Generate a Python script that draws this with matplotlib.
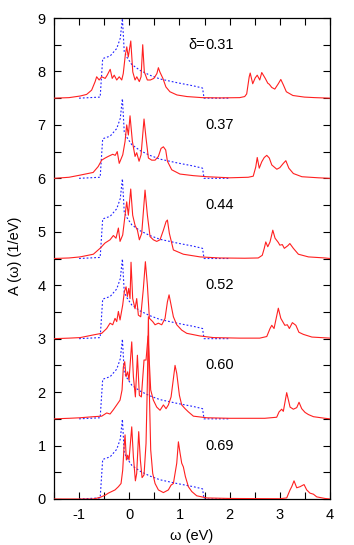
import matplotlib
matplotlib.use("Agg")
import matplotlib.pyplot as plt
import numpy as np
from matplotlib.ticker import MultipleLocator

plt.rcParams['font.family'] = ['Liberation Sans', 'DejaVu Sans']
plt.rcParams['axes.unicode_minus'] = False

# doping values and vertical offsets of each curve
deltas = ["0.31", "0.37", "0.44", "0.52", "0.60", "0.69"]
offsets = [7.5, 6.0, 4.5, 3.0, 1.5, 0.0]

# blue dotted reference DOS (same for all curves, shifted)
w_blue = [-1.0, -0.58, -0.53, -0.38, -0.25, -0.18, -0.137, -0.10, -0.05, 0.05, 0.215, 0.41, 0.61, 0.95, 1.28, 1.46, 1.49, 2.0]
a_blue = [0.0, 0.02, 0.74, 0.79, 0.93, 1.12, 1.49, 0.87, 0.77, 0.63, 0.52, 0.43, 0.36, 0.29, 0.23, 0.19, 0.0, 0.0]

# red spectral functions (omega in eV, A above baseline)
w_031 = [-1.5, -1.2, -0.98, -0.85, -0.75, -0.68, -0.65, -0.60, -0.55, -0.48, -0.44, -0.38, -0.34, -0.30, -0.25,
         -0.20, -0.15, -0.12, -0.08, -0.05, -0.02, 0.03, 0.07, 0.115, 0.15, 0.20, 0.235, 0.268, 0.30, 0.36, 0.42,
         0.49, 0.55, 0.58, 0.61, 0.67, 0.73, 0.81, 0.95, 1.15, 1.45, 1.8, 2.2, 2.30, 2.34, 2.39, 2.41, 2.46, 2.51,
         2.55, 2.60, 2.64, 2.71, 2.76, 2.79, 2.84, 2.90, 2.97, 3.02, 3.07, 3.13, 3.26, 3.49, 3.7, 4.0]
a_031 = [0.0, 0.01, 0.04, 0.07, 0.15, 0.31, 0.40, 0.34, 0.40, 0.37, 0.43, 0.54, 0.37, 0.43, 0.34,
         0.40, 0.34, 0.46, 0.80, 0.96, 0.77, 1.07, 0.49, 0.34, 0.40, 0.31, 0.40, 1.00, 0.49, 0.34, 0.34,
         0.37, 0.46, 0.57, 0.49, 0.37, 0.21, 0.12, 0.06, 0.03, 0.01, 0.005, 0.01, 0.03, 0.08, 0.40, 0.47, 0.27, 0.38,
         0.43, 0.34, 0.48, 0.37, 0.28, 0.26, 0.20, 0.17, 0.27, 0.35, 0.25, 0.12, 0.05, 0.02, 0.01, 0.0]

w_037 = [-1.5, -1.2, -0.98, -0.72, -0.62, -0.55, -0.48, -0.42, -0.33, -0.28, -0.24, -0.20, -0.13, -0.084, -0.051,
         -0.018, 0.015, 0.062, 0.115, 0.148, 0.195, 0.235, 0.294, 0.334, 0.381, 0.447, 0.514, 0.58, 0.633, 0.68,
         0.726, 0.76, 0.846, 1.01, 1.28, 1.55, 2.0, 2.37, 2.47, 2.52, 2.55, 2.59, 2.64, 2.69, 2.74, 2.79, 2.84,
         2.89, 2.94, 3.0, 3.07, 3.12, 3.18, 3.27, 3.44, 3.77, 4.0]
a_037 = [0.0, 0.02, 0.06, 0.11, 0.22, 0.34, 0.38, 0.41, 0.45, 0.43, 0.50, 0.28, 0.44, 0.69, 1.00,
         0.81, 1.17, 0.69, 0.41, 0.48, 0.32, 0.44, 1.11, 0.75, 0.38, 0.34, 0.34, 0.41, 0.56, 0.59,
         0.53, 0.32, 0.16, 0.08, 0.05, 0.03, 0.01, 0.02, 0.04, 0.21, 0.39, 0.19, 0.31, 0.39, 0.43, 0.38, 0.25,
         0.21, 0.17, 0.20, 0.28, 0.33, 0.19, 0.09, 0.03, 0.01, 0.0]

w_044 = [-1.5, -1.2, -0.98, -0.716, -0.583, -0.483, -0.383, -0.317, -0.264, -0.217, -0.184, -0.131, -0.084, -0.051,
         -0.018, 0.029, 0.068, 0.115, 0.162, 0.201, 0.248, 0.314, 0.361, 0.414, 0.48, 0.547, 0.613, 0.68, 0.733,
         0.76, 0.799, 0.879, 1.078, 1.411, 1.8, 2.3, 2.57, 2.65, 2.69, 2.72, 2.76, 2.805, 2.86, 2.905, 2.97, 3.0,
         3.05, 3.09, 3.16, 3.20, 3.27, 3.37, 3.57, 3.9, 4.0]
a_044 = [0.0, 0.01, 0.03, 0.08, 0.19, 0.29, 0.35, 0.43, 0.38, 0.57, 0.32, 0.44, 0.81, 1.06,
         0.81, 1.30, 0.81, 0.62, 0.53, 0.35, 0.47, 1.28, 0.81, 0.41, 0.35, 0.32, 0.35, 0.53, 0.69,
         0.72, 0.47, 0.16, 0.08, 0.03, 0.01, 0.005, 0.01, 0.06, 0.19, 0.31, 0.22, 0.31, 0.53, 0.38, 0.30, 0.25,
         0.26, 0.19, 0.24, 0.28, 0.19, 0.08, 0.03, 0.01, 0.0]

w_052 = [-1.5, -1.2, -0.98, -0.716, -0.549, -0.45, -0.383, -0.33, -0.284, -0.25, -0.217, -0.184, -0.131, -0.098,
         -0.064, -0.038, -0.011, 0.015, 0.035, 0.068, 0.115, 0.148, 0.181, 0.228, 0.281, 0.321, 0.361, 0.401, 0.467,
         0.514, 0.58, 0.647, 0.713, 0.76, 0.793, 0.833, 0.879, 0.946, 1.045, 1.145, 1.411, 1.677, 2.2, 2.6, 2.74,
         2.805, 2.84, 2.885, 2.97, 3.02, 3.10, 3.15, 3.19, 3.25, 3.32, 3.38, 3.47, 3.64, 4.0]
a_052 = [0.0, 0.01, 0.02, 0.07, 0.10, 0.19, 0.29, 0.26, 0.38, 0.32, 0.51, 0.35, 0.63, 0.88,
         0.97, 0.79, 0.94, 0.75, 1.43, 0.75, 0.56, 0.75, 0.44, 0.41, 0.94, 1.44, 1.00, 0.38, 0.32,
         0.26, 0.29, 0.26, 0.38, 0.69, 0.82, 0.63, 0.41, 0.26, 0.16, 0.10, 0.05, 0.02, 0.01, 0.01, 0.04,
         0.19, 0.25, 0.19, 0.57, 0.38, 0.25, 0.26, 0.19, 0.30, 0.25, 0.12, 0.08, 0.03, 0.01]

w_060 = [-1.5, -1.2, -0.98, -0.716, -0.549, -0.45, -0.383, -0.317, -0.25, -0.184, -0.144, -0.118, -0.091, -0.064,
         -0.031, -0.005, 0.049, 0.082, 0.122, 0.162, 0.201, 0.241, 0.294, 0.334, 0.374, 0.427, 0.48, 0.547, 0.613,
         0.68, 0.733, 0.779, 0.833, 0.879, 0.912, 0.946, 0.999, 1.045, 1.112, 1.178, 1.278, 1.544, 2.0, 2.7, 2.938,
         2.985, 3.037, 3.07, 3.137, 3.204, 3.27, 3.337, 3.383, 3.436, 3.503, 3.57, 3.67, 3.9, 4.0]
a_060 = [0.0, 0.01, 0.02, 0.04, 0.05, 0.11, 0.09, 0.17, 0.26, 0.35, 0.54, 0.97, 1.07, 0.79,
         0.88, 0.72, 1.44, 0.79, 0.41, 1.19, 0.44, 0.41, 1.10, 1.10, 1.55, 0.54, 0.35, 0.22, 0.16,
         0.26, 0.19, 0.26, 0.41, 0.75, 1.00, 0.85, 0.44, 0.26, 0.19, 0.13, 0.05, 0.02, 0.01, 0.01, 0.03,
         0.13, 0.18, 0.14, 0.49, 0.22, 0.18, 0.21, 0.31, 0.19, 0.12, 0.08, 0.04, 0.01, 0.0]

w_069 = [-1.5, -0.716, -0.583, -0.483, -0.417, -0.35, -0.284, -0.217, -0.164, -0.131, -0.104, -0.084, -0.058,
         -0.031, -0.005, 0.049, 0.082, 0.122, 0.148, 0.188, 0.221, 0.255, 0.294, 0.334, 0.361, 0.381, 0.40, 0.427,
         0.467, 0.514, 0.58, 0.68, 0.779, 0.833, 0.879, 0.946, 0.979, 1.012, 1.045, 1.078, 1.118, 1.178, 1.245,
         1.344, 1.544, 2.0, 3.0, 3.137, 3.204, 3.237, 3.283, 3.337, 3.403, 3.483, 3.536, 3.60, 3.67, 3.735, 3.9, 4.0]
a_069 = [0.0, 0.0, 0.03, 0.07, 0.11, 0.14, 0.17, 0.23, 0.29, 0.54, 0.98, 1.20, 0.73,
         0.82, 0.73, 1.35, 0.79, 0.34, 0.48, 1.26, 0.73, 0.40, 0.45, 1.04, 2.20, 3.41, 2.00, 0.92,
         0.48, 0.29, 0.17, 0.12, 0.17, 0.26, 0.29, 0.67, 1.07, 0.86, 0.67, 0.60, 0.42, 0.23, 0.14,
         0.06, 0.02, 0.01, 0.005, 0.02, 0.17, 0.23, 0.34, 0.21, 0.23, 0.27, 0.17, 0.11, 0.09, 0.04, 0.01, 0.0]

red_w = [w_031, w_037, w_044, w_052, w_060, w_069]
red_a = [a_031, a_037, a_044, a_052, a_060, a_069]

FS = 10.5

fig = plt.figure(figsize=(3.54, 5.45), dpi=100)
ax = fig.add_axes([54/354, 46/545, 276/354, 481/545])

for w, a, off in zip(red_w, red_a, offsets):
    ax.plot(w, np.asarray(a) + off, color='#ff2020', lw=0.8, zorder=3)
    ax.plot(w_blue, np.asarray(a_blue) + off, color='#2020ff', lw=0.8,
            linestyle=(0, (1.6, 1.8)), zorder=2)

for i, (d, off) in enumerate(zip(deltas, offsets)):
    ax.text(1.51, off + 1.0, d, ha='left', va='center', fontsize=FS)
    if i == 0:
        ax.text(1.51, off + 1.0, "δ=", ha='right', va='center', fontsize=FS)

ax.set_xlim(-1.5, 4)
ax.set_ylim(0, 9)
ax.xaxis.set_major_locator(MultipleLocator(1))
ax.xaxis.set_minor_locator(MultipleLocator(0.5))
ax.yaxis.set_major_locator(MultipleLocator(1))
ax.yaxis.set_minor_locator(MultipleLocator(0.5))
ax.tick_params(which='both', direction='in', top=True, right=True, length=5, width=0.8, labelsize=FS)
ax.tick_params(axis='x', which='major', pad=6.5)
ax.tick_params(axis='y', which='major', pad=6)
for s in ax.spines.values():
    s.set_linewidth(0.9)

fig.text(15/354, (545-256)/545, "A (ω) (1/eV)", rotation=90, ha='center', va='center', fontsize=FS)
fig.text(192/354, 9/545, "ω (eV)", ha='center', va='center', fontsize=FS)

fig.savefig("out.png", dpi=100)
